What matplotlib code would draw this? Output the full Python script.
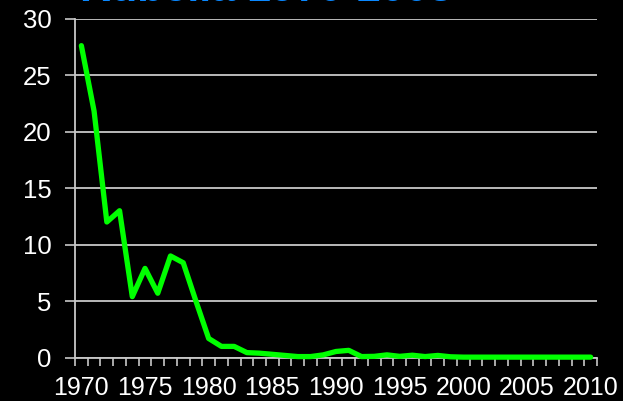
import matplotlib.pyplot as plt
import numpy as np

plt.rcParams['font.family'] = ['Liberation Sans', 'DejaVu Sans']

# Incidence per year
years = list(range(1970, 2011))
rate = [27.6, 21.8, 12.0, 13.0, 5.4, 7.9, 5.7, 9.0, 8.4, 5.0,
        1.7, 1.0, 1.0, 0.45, 0.4, 0.3, 0.2, 0.1, 0.1, 0.25,
        0.55, 0.65, 0.1, 0.12, 0.25, 0.12, 0.22, 0.1, 0.2, 0.08,
        0.05, 0.05, 0.05, 0.05, 0.05, 0.05, 0.05, 0.05, 0.05, 0.05, 0.05]
y_ticks = [0, 5, 10, 15, 20, 25, 30]
label_years = list(range(1970, 2011, 5))

fig = plt.figure(figsize=(6.23, 4.01), dpi=100, facecolor='black')
ax = fig.add_axes([75 / 623, 1 - 357.7 / 401, (597 - 75) / 623, (357.7 - 18.5) / 401])
ax.set_facecolor('black')

x = np.arange(len(years))
ax.plot(x, rate, color='#00ff00', lw=3.8, solid_joinstyle='round',
        solid_capstyle='round', zorder=3, clip_on=False)

ax.set_xlim(-0.5, len(years) - 0.5)
ax.set_ylim(0, 30)

# gridlines
ax.set_yticks(y_ticks)
ax.grid(axis='y', color='#c8c8c8', lw=1.3, zorder=1)
ax.tick_params(axis='y', colors='#c8c8c8', length=7, width=1.2, labelcolor='white',
               labelsize=18.5, pad=10)

# category axis: marks between categories, labels every 5 years
ax.set_xticks([years.index(y) for y in label_years])
ax.set_xticklabels([str(y) for y in label_years])
ax.set_xticks(np.arange(-0.5, len(years)), minor=True)
ax.tick_params(axis='x', which='major', length=0, labelcolor='white',
               labelsize=18, pad=13.5)
ax.tick_params(axis='x', which='minor', colors='#c8c8c8', length=6, width=1.2)

for s in ['top', 'right']:
    ax.spines[s].set_visible(False)
for s in ['left', 'bottom']:
    ax.spines[s].set_color('#c8c8c8')
    ax.spines[s].set_linewidth(1.3)

# title sits mostly above the top edge, as in the reference
fig.text(80 / 623, 1 - 1 / 401, 'Rubella 1970-2008', color='#0a88ff',
         fontsize=31, fontweight='bold', va='baseline', ha='left')

fig.savefig('out.png', dpi=100, facecolor='black')
